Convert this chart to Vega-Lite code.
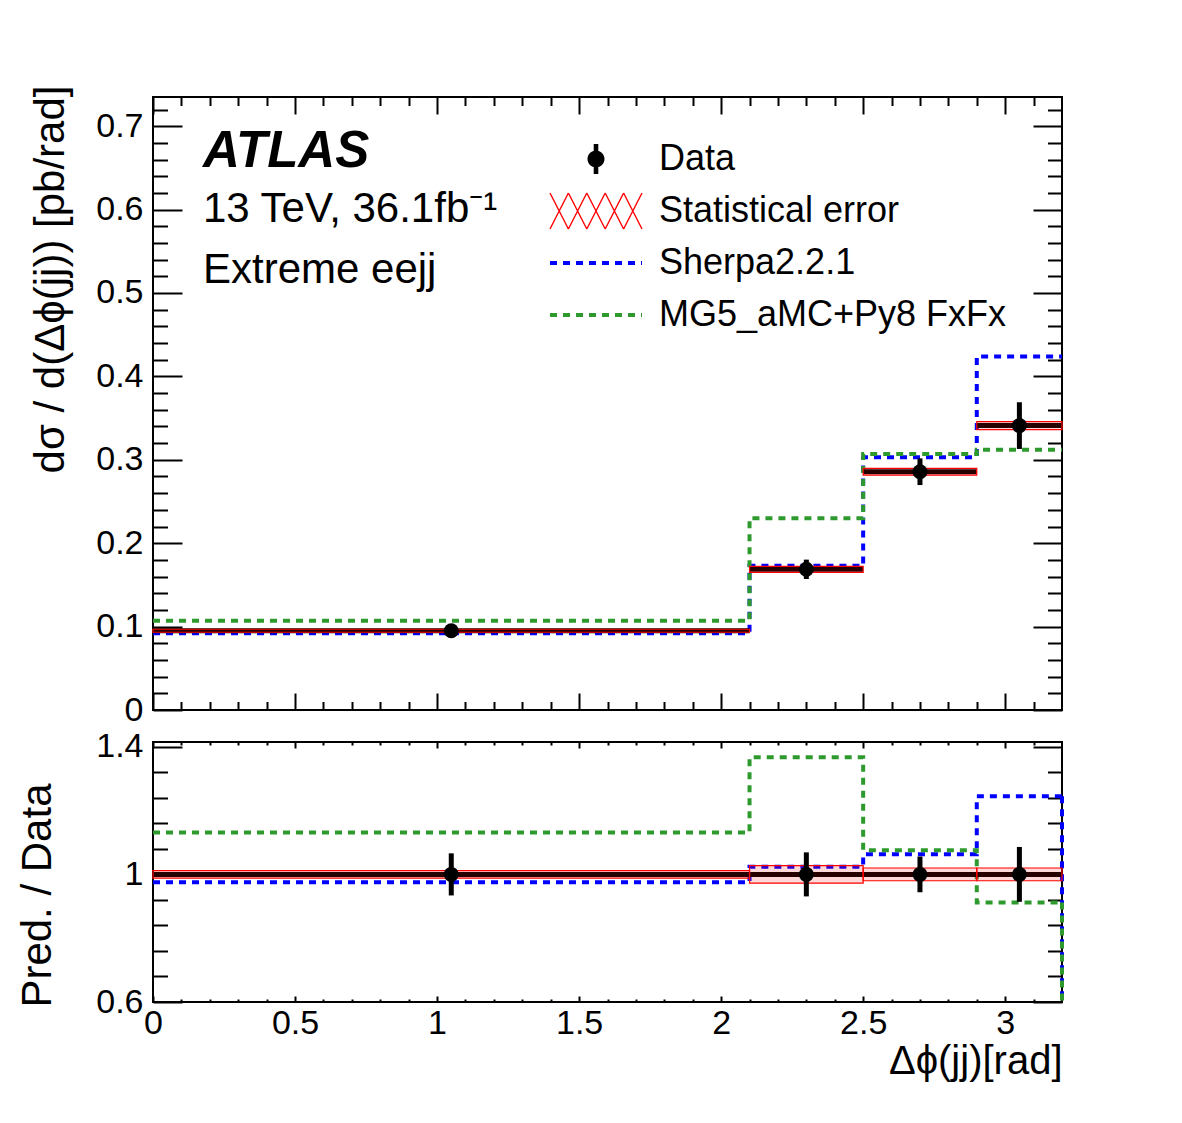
{
  "$schema": "https://vega.github.io/schema/vega-lite/v6.json",
  "padding": {"left": 14, "top": 84, "right": 10, "bottom": 10},
  "background": "#ffffff",
  "spacing": 32,
  "bounds": "flush",
  "datasets": {
    "pred": [
      {"model": "Sherpa2.2.1", "x0": 0, "x1": 2.1, "xs": 0.092, "ratio": 0.975},
      {"model": "Sherpa2.2.1", "x0": 2.1, "x1": 2.5, "xs": 0.173, "ratio": 1.024},
      {"model": "Sherpa2.2.1", "x0": 2.5, "x1": 2.9, "xs": 0.303, "ratio": 1.063},
      {"model": "Sherpa2.2.1", "x0": 2.9, "x1": 3.2, "xs": 0.424, "ratio": 1.245},
      {"model": "MG5_aMC+Py8 FxFx", "x0": 0, "x1": 2.1, "xs": 0.107, "ratio": 1.131},
      {"model": "MG5_aMC+Py8 FxFx", "x0": 2.1, "x1": 2.5, "xs": 0.23, "ratio": 1.367},
      {"model": "MG5_aMC+Py8 FxFx", "x0": 2.5, "x1": 2.9, "xs": 0.307, "ratio": 1.076},
      {"model": "MG5_aMC+Py8 FxFx", "x0": 2.9, "x1": 3.2, "xs": 0.312, "ratio": 0.912}
    ],
    "meas": [
      {"series": "Data", "x0": 0, "x1": 2.1, "xc": 1.05, "xs": 0.095, "xs_err": 0.0063, "xs_stat_lo": 0.0932, "xs_stat_hi": 0.0968, "ratio": 1, "ratio_err": 0.066, "ratio_stat_lo": 0.9885, "ratio_stat_hi": 1.0115},
      {"series": "Data", "x0": 2.1, "x1": 2.5, "xc": 2.3, "xs": 0.1687, "xs_err": 0.0116, "xs_stat_lo": 0.1651, "xs_stat_hi": 0.1723, "ratio": 1, "ratio_err": 0.069, "ratio_stat_lo": 0.9725, "ratio_stat_hi": 1.0275},
      {"series": "Data", "x0": 2.5, "x1": 2.9, "xc": 2.7, "xs": 0.2857, "xs_err": 0.016, "xs_stat_lo": 0.2817, "xs_stat_hi": 0.2897, "ratio": 1, "ratio_err": 0.056, "ratio_stat_lo": 0.98, "ratio_stat_hi": 1.02},
      {"series": "Data", "x0": 2.9, "x1": 3.2, "xc": 3.05, "xs": 0.341, "xs_err": 0.028, "xs_stat_lo": 0.3362, "xs_stat_hi": 0.3458, "ratio": 1, "ratio_err": 0.086, "ratio_stat_lo": 0.98, "ratio_stat_hi": 1.02}
    ]
  },
  "vconcat": [
    {
      "width": 909,
      "height": 613,
      "resolve": {"axis": {"x": "independent", "y": "independent"}},
      "layer": [
        {
          "data": {"name": "pred"},
          "transform": [{"fold": ["x0", "x1"], "as": ["edge_key", "edge"]}],
          "mark": {"type": "line", "strokeWidth": 4, "strokeDash": [7, 6]},
          "encoding": {
            "x": {"field": "edge", "type": "quantitative", "scale": {"domain": [0, 3.2], "nice": false, "zero": false},
                  "axis": {"orient": "bottom", "values": [0, 0.5, 1, 1.5, 2, 2.5, 3], "tickSize": -17, "labels": false, "title": null}},
            "y": {"field": "xs", "type": "quantitative", "scale": {"domain": [0, 0.735], "nice": false, "zero": false},
                  "axis": {"orient": "left", "values": [0, 0.1, 0.2, 0.3, 0.4, 0.5, 0.6, 0.7], "format": "~g", "tickSize": -29, "labelPadding": 39,
                           "title": "dσ / d(Δϕ(jj)) [pb/rad]", "titleFontSize": 42, "titleAngle": -90, "titleX": -90, "titleY": -12,
                           "titleAlign": "right", "titleBaseline": "alphabetic"}},
            "color": {"field": "model", "type": "nominal", "scale": {"domain": ["Sherpa2.2.1", "MG5_aMC+Py8 FxFx"], "range": ["#0000ff", "#2e9a2e"]}, "legend": null},
            "order": [{"field": "x0", "type": "quantitative"}, {"field": "edge", "type": "quantitative"}]
          }
        },
        {
          "data": {"name": "meas"},
          "mark": {"type": "rule", "strokeWidth": 5, "color": "#000000"},
          "encoding": {
            "x": {"field": "x0", "type": "quantitative", "scale": {"domain": [0, 3.2], "nice": false, "zero": false},
                  "axis": {"orient": "top", "values": [0, 0.5, 1, 1.5, 2, 2.5, 3], "tickSize": -17, "labels": false, "title": null}},
            "x2": {"field": "x1"},
            "y": {"field": "xs", "type": "quantitative", "scale": {"domain": [0, 0.735], "nice": false, "zero": false},
                  "axis": {"orient": "right", "values": [0, 0.1, 0.2, 0.3, 0.4, 0.5, 0.6, 0.7], "tickSize": -29, "labels": false, "title": null}}
          }
        },
        {
          "data": {"name": "meas"},
          "mark": {"type": "rect", "fill": "#ff0000", "fillOpacity": 0.15, "stroke": "#ff0000", "strokeWidth": 1.2},
          "encoding": {
            "x": {"field": "x0", "type": "quantitative", "scale": {"domain": [0, 3.2], "nice": false, "zero": false},
                  "axis": {"orient": "top", "values": [0.1, 0.2, 0.3, 0.4, 0.6, 0.7, 0.8, 0.9, 1.1, 1.2, 1.3, 1.4, 1.6, 1.7, 1.8, 1.9, 2.1, 2.2, 2.3, 2.4, 2.6, 2.7, 2.8, 2.9, 3.1], "tickSize": -8.5, "labels": false, "title": null}},
            "x2": {"field": "x1"},
            "y": {"field": "xs_stat_lo", "type": "quantitative", "scale": {"domain": [0, 0.735], "nice": false, "zero": false},
                  "axis": {"orient": "right", "values": [0.02, 0.04, 0.06, 0.08, 0.12, 0.14, 0.16, 0.18, 0.22, 0.24, 0.26, 0.28, 0.32, 0.34, 0.36, 0.38, 0.42, 0.44, 0.46, 0.48, 0.52, 0.54, 0.56, 0.58, 0.62, 0.64, 0.66, 0.68, 0.72], "tickSize": -14.5, "labels": false, "title": null}},
            "y2": {"field": "xs_stat_hi"}
          }
        },
        {
          "data": {"name": "meas"},
          "mark": {"type": "errorbar", "ticks": false, "thickness": 5, "color": "#000000"},
          "encoding": {
            "x": {"field": "xc", "type": "quantitative", "scale": {"domain": [0, 3.2], "nice": false, "zero": false}, "axis": null},
            "y": {"field": "xs", "type": "quantitative", "scale": {"domain": [0, 0.735], "nice": false, "zero": false}, "axis": null, "title": null},
            "yError": {"field": "xs_err"}
          }
        },
        {
          "data": {"name": "meas"},
          "mark": {"type": "point", "filled": true, "size": 225, "opacity": 1, "color": "#000000"},
          "encoding": {
            "x": {"field": "xc", "type": "quantitative", "scale": {"domain": [0, 3.2], "nice": false, "zero": false},
                  "axis": {"orient": "bottom", "values": [0.1, 0.2, 0.3, 0.4, 0.6, 0.7, 0.8, 0.9, 1.1, 1.2, 1.3, 1.4, 1.6, 1.7, 1.8, 1.9, 2.1, 2.2, 2.3, 2.4, 2.6, 2.7, 2.8, 2.9, 3.1], "tickSize": -8.5, "labels": false, "title": null}},
            "y": {"field": "xs", "type": "quantitative", "scale": {"domain": [0, 0.735], "nice": false, "zero": false},
                  "axis": {"orient": "left", "values": [0.02, 0.04, 0.06, 0.08, 0.12, 0.14, 0.16, 0.18, 0.22, 0.24, 0.26, 0.28, 0.32, 0.34, 0.36, 0.38, 0.42, 0.44, 0.46, 0.48, 0.52, 0.54, 0.56, 0.58, 0.62, 0.64, 0.66, 0.68, 0.72], "tickSize": -14.5, "labels": false, "title": null}}
          }
        },
        {
          "description": "Legend-only layer: the key's symbols come from these four scales.",
          "data": {"values": []},
          "mark": {"type": "point", "filled": true, "size": 1600, "strokeWidth": 4, "opacity": 1},
          "encoding": {
            "fill": {"field": "series", "type": "nominal",
                     "scale": {"domain": ["Data", "Statistical error", "Sherpa2.2.1", "MG5_aMC+Py8 FxFx"], "range": ["#000000", "#ff0000", "transparent", "transparent"]},
                     "legend": {"title": null, "orient": "none", "legendX": 397, "legendY": 40, "symbolOpacity": 1}},
            "stroke": {"field": "series", "type": "nominal",
                       "scale": {"domain": ["Data", "Statistical error", "Sherpa2.2.1", "MG5_aMC+Py8 FxFx"], "range": ["transparent", "transparent", "#0000ff", "#2e9a2e"]},
                       "legend": {"title": null, "orient": "none", "legendX": 397, "legendY": 40, "symbolOpacity": 1}},
            "strokeDash": {"field": "series", "type": "nominal",
                           "scale": {"domain": ["Data", "Statistical error", "Sherpa2.2.1", "MG5_aMC+Py8 FxFx"], "range": [[1, 0], [1, 0], [7, 6], [7, 6]]},
                           "legend": {"title": null, "orient": "none", "legendX": 397, "legendY": 40, "symbolOpacity": 1}},
            "shape": {"field": "series", "type": "nominal",
                      "scale": {"domain": ["Data", "Statistical error", "Sherpa2.2.1", "MG5_aMC+Py8 FxFx"],
                                "range": [
                                  "M-0.425,0A0.425,0.425,0,1,1,0.425,0A0.425,0.425,0,1,1,-0.425,0ZM-0.115,-0.75H0.115V-0.4H-0.115ZM-0.115,0.4H0.115V0.75H-0.115ZM0,-1.1M0,1.1",
                                  "M-2.269,0.916L-1.349,-0.884L-1.411,-0.916L-2.331,0.884ZM-2.331,-0.884L-1.411,0.916L-1.349,0.884L-2.269,-0.916ZM-1.349,0.916L-0.429,-0.884L-0.491,-0.916L-1.411,0.884ZM-1.411,-0.884L-0.491,0.916L-0.429,0.884L-1.349,-0.916ZM-0.429,0.916L0.491,-0.884L0.429,-0.916L-0.491,0.884ZM-0.491,-0.884L0.429,0.916L0.491,0.884L-0.429,-0.916ZM0.491,0.916L1.411,-0.884L1.349,-0.916L0.429,0.884ZM0.429,-0.884L1.349,0.916L1.411,0.884L0.491,-0.916ZM1.411,0.916L2.331,-0.884L2.269,-0.916L1.349,0.884ZM1.349,-0.884L2.269,0.916L2.331,0.884L1.411,-0.916ZM0,-1.1M0,1.1",
                                  "M-2.3,0L2.3,0M0,-1.1M0,1.1",
                                  "M-2.3,0L2.3,0M0,-1.1M0,1.1"
                                ]},
                      "legend": {"title": null, "orient": "none", "legendX": 397, "legendY": 40, "symbolOpacity": 1}}
          }
        },
        {
          "data": {"values": [{"label": "ATLAS"}]},
          "mark": {"type": "text", "font": "Liberation Sans", "fontSize": 51, "fontWeight": "bold", "fontStyle": "italic", "align": "left", "baseline": "alphabetic", "color": "#000000"},
          "encoding": {
            "x": {"datum": 0.176, "type": "quantitative", "scale": {"domain": [0, 3.2], "nice": false, "zero": false}, "axis": null},
            "y": {"datum": 0.651, "type": "quantitative", "scale": {"domain": [0, 0.735], "nice": false, "zero": false}, "axis": null},
            "text": {"field": "label"}
          }
        },
        {
          "data": {"values": [{"label": "13 TeV, 36.1fb⁻¹"}]},
          "mark": {"type": "text", "font": "Liberation Sans", "fontSize": 42, "align": "left", "baseline": "alphabetic", "color": "#000000"},
          "encoding": {
            "x": {"datum": 0.176, "type": "quantitative", "scale": {"domain": [0, 3.2], "nice": false, "zero": false}, "axis": null},
            "y": {"datum": 0.585, "type": "quantitative", "scale": {"domain": [0, 0.735], "nice": false, "zero": false}, "axis": null},
            "text": {"field": "label"}
          }
        },
        {
          "data": {"values": [{"label": "Extreme eejj"}]},
          "mark": {"type": "text", "font": "Liberation Sans", "fontSize": 42, "align": "left", "baseline": "alphabetic", "color": "#000000"},
          "encoding": {
            "x": {"datum": 0.176, "type": "quantitative", "scale": {"domain": [0, 3.2], "nice": false, "zero": false}, "axis": null},
            "y": {"datum": 0.512, "type": "quantitative", "scale": {"domain": [0, 0.735], "nice": false, "zero": false}, "axis": null},
            "text": {"field": "label"}
          }
        }
      ]
    },
    {
      "width": 909,
      "height": 260,
      "resolve": {"axis": {"x": "independent", "y": "independent"}},
      "layer": [
        {
          "data": {"name": "pred"},
          "transform": [{"fold": ["x0", "x1"], "as": ["edge_key", "edge"]}],
          "mark": {"type": "line", "strokeWidth": 4, "strokeDash": [7, 6]},
          "encoding": {
            "x": {"field": "edge", "type": "quantitative", "scale": {"domain": [0, 3.2], "nice": false, "zero": false},
                  "axis": {"orient": "bottom", "values": [0, 0.5, 1, 1.5, 2, 2.5, 3], "format": "~g", "tickSize": -6, "labelPadding": 10,
                           "title": "Δϕ(jj)[rad]", "titleFontSize": 40, "titleX": 909, "titleY": 71, "titleAlign": "right", "titleBaseline": "alphabetic", "titleAngle": 0}},
            "y": {"field": "ratio", "type": "quantitative", "scale": {"domain": [0.6, 1.415], "nice": false, "zero": false},
                  "axis": {"orient": "left", "values": [0.6, 1, 1.4], "format": "~g", "tickSize": -29, "labelPadding": 39,
                           "title": "Pred. / Data", "titleFontSize": 42, "titleAngle": -90, "titleX": -103, "titleY": 41,
                           "titleAlign": "right", "titleBaseline": "alphabetic"}},
            "color": {"field": "model", "type": "nominal", "scale": {"domain": ["Sherpa2.2.1", "MG5_aMC+Py8 FxFx"], "range": ["#0000ff", "#2e9a2e"]}, "legend": null},
            "order": [{"field": "x0", "type": "quantitative"}, {"field": "edge", "type": "quantitative"}]
          }
        },
        {
          "data": {"name": "pred"},
          "transform": [{"filter": "datum.x1 == 3.2"}],
          "mark": {"type": "rule", "strokeWidth": 4, "strokeDash": [7, 6]},
          "encoding": {
            "x": {"field": "x1", "type": "quantitative", "scale": {"domain": [0, 3.2], "nice": false, "zero": false},
                  "axis": {"orient": "bottom", "values": [0.1, 0.2, 0.3, 0.4, 0.6, 0.7, 0.8, 0.9, 1.1, 1.2, 1.3, 1.4, 1.6, 1.7, 1.8, 1.9, 2.1, 2.2, 2.3, 2.4, 2.6, 2.7, 2.8, 2.9, 3.1], "tickSize": -3, "labels": false, "title": null}},
            "y": {"field": "ratio", "type": "quantitative", "scale": {"domain": [0.6, 1.415], "nice": false, "zero": false},
                  "axis": {"orient": "left", "values": [0.68, 0.76, 0.84, 0.92, 1.08, 1.16, 1.24, 1.32], "tickSize": -14.5, "labels": false, "title": null}},
            "y2": {"datum": 0.6},
            "color": {"field": "model", "type": "nominal", "scale": {"domain": ["Sherpa2.2.1", "MG5_aMC+Py8 FxFx"], "range": ["#0000ff", "#2e9a2e"]}, "legend": null}
          }
        },
        {
          "data": {"name": "meas"},
          "mark": {"type": "rule", "strokeWidth": 5, "color": "#000000"},
          "encoding": {
            "x": {"field": "x0", "type": "quantitative", "scale": {"domain": [0, 3.2], "nice": false, "zero": false},
                  "axis": {"orient": "top", "values": [0, 0.5, 1, 1.5, 2, 2.5, 3], "tickSize": -6, "labels": false, "title": null}},
            "x2": {"field": "x1"},
            "y": {"field": "ratio", "type": "quantitative", "scale": {"domain": [0.6, 1.415], "nice": false, "zero": false},
                  "axis": {"orient": "right", "values": [0.6, 1, 1.4], "tickSize": -29, "labels": false, "title": null}}
          }
        },
        {
          "data": {"name": "meas"},
          "mark": {"type": "rect", "fill": "#ff0000", "fillOpacity": 0.15, "stroke": "#ff0000", "strokeWidth": 1.2},
          "encoding": {
            "x": {"field": "x0", "type": "quantitative", "scale": {"domain": [0, 3.2], "nice": false, "zero": false},
                  "axis": {"orient": "top", "values": [0.1, 0.2, 0.3, 0.4, 0.6, 0.7, 0.8, 0.9, 1.1, 1.2, 1.3, 1.4, 1.6, 1.7, 1.8, 1.9, 2.1, 2.2, 2.3, 2.4, 2.6, 2.7, 2.8, 2.9, 3.1], "tickSize": -3, "labels": false, "title": null}},
            "x2": {"field": "x1"},
            "y": {"field": "ratio_stat_lo", "type": "quantitative", "scale": {"domain": [0.6, 1.415], "nice": false, "zero": false},
                  "axis": {"orient": "right", "values": [0.68, 0.76, 0.84, 0.92, 1.08, 1.16, 1.24, 1.32], "tickSize": -14.5, "labels": false, "title": null}},
            "y2": {"field": "ratio_stat_hi"}
          }
        },
        {
          "data": {"name": "meas"},
          "mark": {"type": "errorbar", "ticks": false, "thickness": 5, "color": "#000000"},
          "encoding": {
            "x": {"field": "xc", "type": "quantitative", "scale": {"domain": [0, 3.2], "nice": false, "zero": false}, "axis": null},
            "y": {"field": "ratio", "type": "quantitative", "scale": {"domain": [0.6, 1.415], "nice": false, "zero": false}, "axis": null, "title": null},
            "yError": {"field": "ratio_err"}
          }
        },
        {
          "data": {"name": "meas"},
          "mark": {"type": "point", "filled": true, "size": 225, "opacity": 1, "color": "#000000"},
          "encoding": {
            "x": {"field": "xc", "type": "quantitative", "scale": {"domain": [0, 3.2], "nice": false, "zero": false}, "axis": null},
            "y": {"field": "ratio", "type": "quantitative", "scale": {"domain": [0.6, 1.415], "nice": false, "zero": false}, "axis": null}
          }
        }
      ]
    }
  ],
  "config": {
    "font": "Liberation Sans",
    "view": {"stroke": "#000000", "strokeWidth": 2},
    "axis": {
      "domain": false, "grid": false,
      "tickColor": "#000000", "tickWidth": 2,
      "labelFont": "Liberation Sans", "labelFontSize": 34, "labelColor": "#000000",
      "labelFlush": false, "labelOverlap": false,
      "titleFont": "Liberation Sans", "titleFontWeight": "normal", "titleColor": "#000000"
    },
    "legend": {
      "padding": 0, "rowPadding": -12, "labelOffset": 41, "symbolOffset": 24,
      "labelFont": "Liberation Sans", "labelFontSize": 36, "labelColor": "#000000", "labelLimit": 600,
      "symbolSize": 1600, "symbolStrokeWidth": 4, "symbolOpacity": 1
    }
  }
}
